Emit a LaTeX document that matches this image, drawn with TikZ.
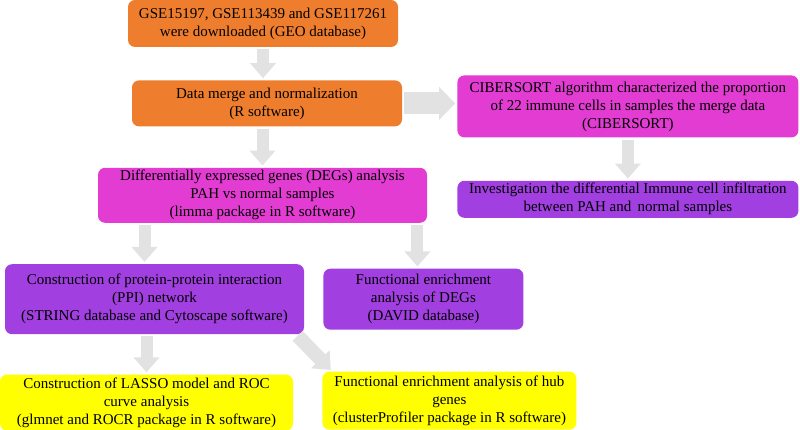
\documentclass[tikz,border=0pt]{standalone}
\usepackage{fontspec}
\setmainfont{Liberation Serif}
\usetikzlibrary{positioning, arrows.meta}

\definecolor{boxOrange}{HTML}{EE7D2E}
\definecolor{boxMagenta}{HTML}{E23CD2}
\definecolor{boxPurple}{HTML}{A13FE0}
\definecolor{boxYellow}{HTML}{FFFF00}
\definecolor{arrowGray}{HTML}{E2E2E2}

\begin{document}
\begin{tikzpicture}[
    x=1pt, y=1pt,
    node distance=40pt,
    box/.style={rectangle, rounded corners=7pt, align=center, inner sep=2pt, font=\fontsize{15}{18}\selectfont},
    orangebox/.style={box, fill=boxOrange},
    magentabox/.style={box, fill=boxMagenta},
    purplebox/.style={box, fill=boxPurple},
    yellowbox/.style={box, fill=boxYellow},
    flow/.style={draw=arrowGray, line width=12pt, shorten <=2pt, shorten >=2pt, -{Triangle[length=15pt, width=25pt]}},
    bigflow/.style={flow, line width=22pt, -{Triangle[length=16pt, width=32pt]}}
]
\useasboundingbox (0,0) rectangle (800,-430);

% Nodes
\node[orangebox, minimum width=270pt, minimum height=47pt] (gse) at (263,-23.5) {GSE15197, GSE113439 and GSE117261\\were downloaded (GEO database)};
\node[orangebox, minimum width=270pt, minimum height=46pt, below=33pt of gse, xshift=4pt] (merge) {Data merge and normalization\\(R software)};
\node[magentabox, minimum width=341pt, minimum height=62pt, right=55pt of merge, yshift=-3pt] (cibersort) {CIBERSORT algorithm characterized the proportion\\of 22 immune cells in samples the merge data\\(CIBERSORT)};
\node[purplebox, minimum width=341pt, minimum height=37pt, below=43pt of cibersort] (infiltration) {Investigation the differential Immune cell infiltration\\between PAH and\, normal samples};
\node[magentabox, minimum width=329pt, minimum height=55pt, below=41pt of merge, xshift=-4.5pt] (degs) {Differentially expressed genes (DEGs) analysis\\PAH vs normal samples\\(limma package in R software)};
\node[purplebox, minimum width=299pt, minimum height=70pt, below=41pt of degs, xshift=-108pt] (ppi) {Construction of protein-protein interaction\\(PPI) network\\(STRING database and Cytoscape software)};
\node[purplebox, minimum width=200pt, minimum height=61pt, right=19pt of ppi] (enrichDegs) {Functional enrichment\\analysis of DEGs\\(DAVID database)};
\node[yellowbox, minimum width=293pt, minimum height=56pt, below=40pt of ppi, xshift=-8pt] (lasso) {Construction of LASSO model and ROC\\curve analysis\\(glmnet and ROCR package in R software)};
\node[yellowbox, minimum width=254pt, minimum height=58pt, right=29pt of lasso, yshift=2pt] (enrichHub) {Functional enrichment analysis of hub\\genes\\(clusterProfiler package in R software)};

% Arrows
\draw[flow] (gse.south) -- (gse.south |- merge.north);
\draw[flow] (degs.north |- merge.south) -- (degs.north);
\draw[bigflow] (merge.east) -- (merge.east -| cibersort.west);
\draw[flow] (cibersort.south) -- (infiltration.north);
\draw[flow] ([xshift=-10pt]ppi.north |- degs.south) -- ([xshift=-10pt]ppi.north);
\draw[flow] ([xshift=-6pt]enrichDegs.north |- degs.south) -- ([xshift=-6pt]enrichDegs.north);
\draw[flow] (lasso.north |- ppi.south) -- (lasso.north);
\draw[flow, line width=14pt] ([xshift=-8pt]ppi.south east) -- ([xshift=10pt]enrichHub.north west);

\end{tikzpicture}
\end{document}
